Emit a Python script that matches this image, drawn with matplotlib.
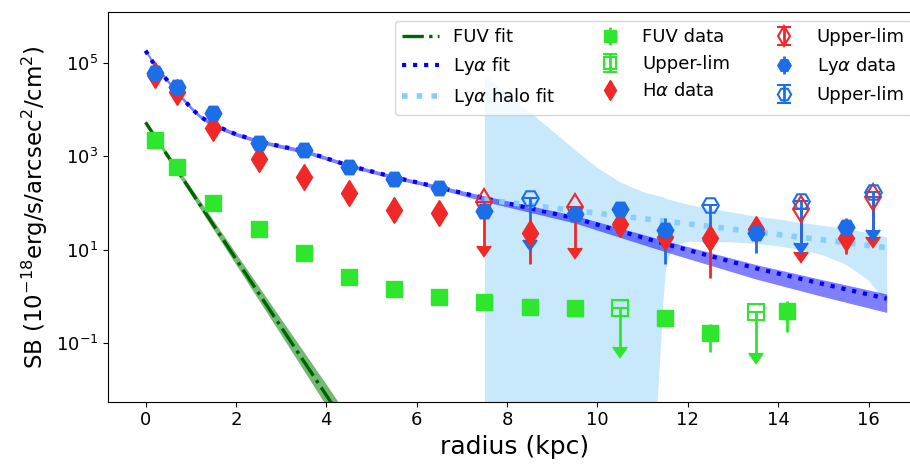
import numpy as np
import matplotlib.pyplot as plt
from matplotlib.ticker import NullLocator

# Radial SB profiles: radius in kpc, SB in 1e-18 erg/s/arcsec^2/cm^2

# FUV measurements
fuv_r = [0.2, 0.7, 1.5, 2.5, 3.5, 4.5, 5.5, 6.5, 7.5, 8.5, 9.5, 11.5, 12.5, 14.2]
fuv_sb = [2.2e3, 590, 100, 27.5, 8.5, 2.6, 1.45, 0.98, 0.76, 0.60, 0.57, 0.35, 0.16, 0.49]
fuv_err = [100, 30, 6, 2, 0.6, 0.2, 0.15, 0.12, 0.1, 0.1, 0.12, 0.1, 0.095, 0.32]
fuv_lim_r = [10.5, 13.5]
fuv_lim_sb = [0.56, 0.45]
fuv_lim_err = [0.48, 0.39]

# H-alpha measurements
ha_r = [0.2, 0.7, 1.5, 2.5, 3.5, 4.5, 5.5, 6.5, 8.5, 10.5, 11.5, 12.5, 13.5, 15.5]
ha_sb = [5.5e4, 2.4e4, 4.0e3, 870, 365, 166, 71, 61, 23, 36, 19, 18, 28, 18]
ha_err = [3e3, 1e3, 300, 60, 30, 15, 8, 8, 18, 6, 5, 15.5, 5, 10]
ha_lim_r = [7.5, 9.5, 14.5, 16.1]
ha_lim_sb = [104, 83, 75, 135]
ha_lim_err = [92, 72, 66, 116]

# Ly-alpha measurements
lya_r = [0.2, 0.7, 1.5, 2.5, 3.5, 4.5, 5.5, 6.5, 7.5, 9.5, 10.5, 11.5, 13.5, 15.5]
lya_sb = [6.1e4, 3.1e4, 8.5e3, 1.95e3, 1.38e3, 590, 330, 210, 68, 59, 74, 26, 23, 31]
lya_err = [3e3, 2e3, 500, 100, 70, 30, 20, 15, 10, 8, 6, 21, 14.5, 17]
lya_lim_r = [8.5, 12.5, 14.5, 16.1]
lya_lim_sb = [129, 92, 110, 174]
lya_lim_err = [113, 76, 96, 148]

# FUV exponential fit with its uncertainty band
fuv_fit_r = [0, 1, 2, 3, 4, 4.6]
fuv_fit = [5.3e3, 182, 6.3, 0.22, 7.6e-3, 1.0e-3]
fuv_fit_lo = [4.8e3, 152, 4.8, 0.149, 4.5e-3, 5.5e-4]
fuv_fit_hi = [5.8e3, 218, 8.3, 0.325, 1.3e-2, 1.8e-3]

# Ly-alpha two-component fit
lya_fit_r = [0, 0.15, 0.3, 0.45, 0.6, 0.75, 0.9, 1.05, 1.2, 1.35, 1.5, 1.65, 1.8,
             2.0, 2.5, 3.0, 3.5, 4.5, 5.5, 6.5, 7.5, 9.5, 11.5, 13.5, 15.0, 16.4]
lya_fit = [1.82e5, 1.07e5, 6.9e4, 4.57e4, 3.02e4, 2.04e4, 1.41e4, 9.8e3, 7.2e3, 5.75e3,
           4.8e3, 4.1e3, 3.55e3, 2.95e3, 2.09e3, 1.62e3, 1.29e3, 631, 355, 214, 126,
           46.8, 13.2, 3.98, 1.82, 0.89]
lya_fit_lo = [1.66e5, 9.7e4, 6.3e4, 4.16e4, 2.75e4, 1.86e4, 1.28e4, 8.9e3, 6.55e3, 5.2e3,
              4.35e3, 3.7e3, 3.2e3, 2.68e3, 1.9e3, 1.47e3, 1.17e3, 574, 323, 195, 107,
              37, 9.0, 2.35, 0.98, 0.45]
lya_fit_hi = [2.0e5, 1.18e5, 7.6e4, 5.0e4, 3.32e4, 2.24e4, 1.55e4, 1.08e4, 7.9e3, 6.3e3,
              5.3e3, 4.5e3, 3.9e3, 3.25e3, 2.3e3, 1.78e3, 1.42e3, 694, 390, 235, 141,
              53.8, 15.5, 4.78, 2.24, 1.12]

# Ly-alpha halo fit and its band
halo_fit_r = [7.5, 10, 12, 14, 16.4]
halo_fit = [117, 60, 35.5, 21, 11]
halo_band_r = [7.5, 8.0, 8.5, 9.0, 9.5, 10.0, 10.5, 11.0, 11.2, 11.3, 11.38, 11.45, 11.5,
               11.6, 11.8, 12.0, 12.5, 13.0, 13.5, 14.0, 14.5, 15.0, 15.5, 16.0, 16.4]
halo_hi = [5.5e4, 2.1e4, 8.9e3, 3.5e3, 1.38e3, 562, 282, 174, 155, 145, 140, 136, 126,
           118, 105, 93, 76, 63, 52, 45, 38, 33, 28, 23, 18.6]
halo_lo = [1e-4, 1e-4, 1e-4, 1e-4, 1e-4, 1e-4, 1e-4, 1e-4, 1e-4, 3e-3, 0.05, 0.8, 3.5,
           9, 13, 15, 15, 14.5, 13.5, 12, 10, 7.6, 4.8, 2.2, 0.7]

green = '#2ee62e'
red = '#f02828'
blue = '#1b6ee8'

fig = plt.figure(figsize=(9.1, 4.65), dpi=100)
ax = fig.add_axes([0.1187, 0.1361, 0.8934, 0.8387])

ax.fill_between(halo_band_r, halo_lo, halo_hi, color='lightskyblue', alpha=0.45, lw=0)
ax.fill_between(fuv_fit_r, fuv_fit_lo, fuv_fit_hi, color='green', alpha=0.55, lw=0)
ax.plot(fuv_fit_r, fuv_fit, '-.', color='darkgreen', lw=2.4, label='FUV fit')
ax.fill_between(lya_fit_r, lya_fit_lo, lya_fit_hi, color='blue', alpha=0.5, lw=0)
ax.plot(lya_fit_r, lya_fit, ':', color='blue', lw=3, label=r'Ly$\alpha$ fit')
ax.plot(halo_fit_r, halo_fit, ':', color='lightskyblue', lw=4, label=r'Ly$\alpha$ halo fit')

ax.errorbar(fuv_r, fuv_sb, yerr=fuv_err, fmt='s', color=green, ms=11,
            elinewidth=2, label='FUV data')
ax.errorbar(fuv_lim_r, fuv_lim_sb, yerr=fuv_lim_err, uplims=True, fmt='s', color=green,
            mfc='none', mew=1.5, ms=11, elinewidth=2, capsize=5, label='Upper-lim')
ax.errorbar(ha_r, ha_sb, yerr=ha_err, fmt='d', color=red, ms=13,
            elinewidth=2, label=r'H$\alpha$ data')
ax.errorbar(ha_lim_r, ha_lim_sb, yerr=ha_lim_err, uplims=True, fmt='d', color=red,
            mfc='none', mew=1.5, ms=13, elinewidth=2, capsize=5, label='Upper-lim')
ax.errorbar(lya_r, lya_sb, yerr=lya_err, fmt='H', color=blue, ms=12,
            elinewidth=2, label=r'Ly$\alpha$ data')
ax.errorbar(lya_lim_r, lya_lim_sb, yerr=lya_lim_err, uplims=True, fmt='H', color=blue,
            mfc='none', mew=1.5, ms=12, elinewidth=2, capsize=5, label='Upper-lim')

ax.set_yscale('log')
ax.set_xlim(-0.83, 17.16)
ax.set_ylim(10**-2.258, 10**6.093)
ax.set_xticks(np.arange(0, 17, 2))
ax.set_yticks([1e-1, 1e1, 1e3, 1e5])
ax.yaxis.set_minor_locator(NullLocator())
ax.tick_params(labelsize=13)

ax.set_xlabel('radius (kpc)', fontsize=18)
ax.set_ylabel(r'SB ($10^{-18}$erg/s/arcsec$^2$/cm$^2$)', fontsize=16.5)
ax.legend(loc='upper right', ncol=3, fontsize=13, markerscale=0.8)

fig.savefig('out.png', dpi=100)
